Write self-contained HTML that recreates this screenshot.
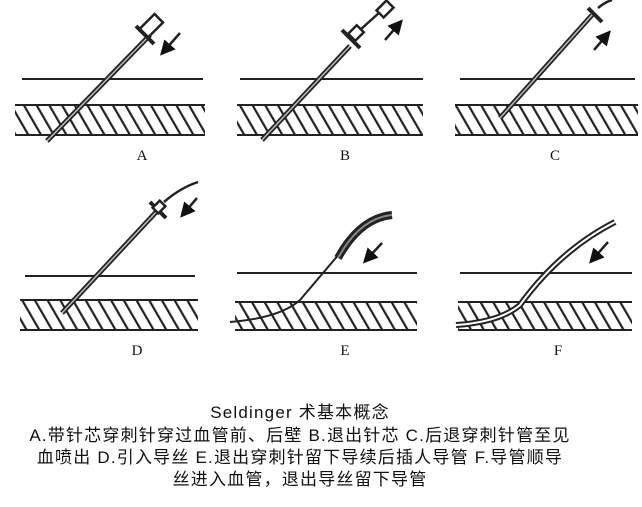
<!DOCTYPE html>
<html><head><meta charset="utf-8"><style>
html,body{margin:0;padding:0;background:#fff;}
.cap{position:absolute;left:-42px;width:684px;text-align:center;font-family:"Liberation Sans","Noto Sans CJK SC",sans-serif;font-size:17px;letter-spacing:1.2px;color:#111;line-height:22px;}
</style></head><body>
<div style="position:relative;width:642px;height:507px;overflow:hidden;">
<svg width="642" height="507" style="position:absolute;left:0;top:0" xmlns="http://www.w3.org/2000/svg">
<defs>
<pattern id="h" patternUnits="userSpaceOnUse" width="11" height="11" patternTransform="rotate(-30)">
<rect x="0" y="0" width="2.2" height="11" fill="#222"/>
</pattern>
<marker id="ar" markerWidth="6" markerHeight="6" refX="3" refY="3" orient="auto"><path d="M0,0L6,3L0,6z" fill="#111"/></marker>
</defs>
<g stroke="#222" stroke-width="2" fill="none">
<line x1="22" y1="79" x2="203" y2="79"/><line x1="240" y1="79" x2="423" y2="79"/><line x1="460" y1="79" x2="635" y2="79"/>
<line x1="15" y1="105" x2="205" y2="105"/><line x1="15" y1="135" x2="205" y2="135"/>
<line x1="237" y1="105" x2="423" y2="105"/><line x1="237" y1="135" x2="423" y2="135"/>
<line x1="455" y1="105" x2="638" y2="105"/><line x1="455" y1="135" x2="638" y2="135"/>
<line x1="25" y1="276" x2="195" y2="276"/><line x1="237" y1="273" x2="417" y2="273"/><line x1="460" y1="273" x2="632" y2="273"/>
<line x1="20" y1="300" x2="198" y2="300"/><line x1="20" y1="330" x2="198" y2="330"/>
<line x1="235" y1="302" x2="417" y2="302"/><line x1="235" y1="330" x2="417" y2="330"/>
<line x1="458" y1="302" x2="632" y2="302"/><line x1="458" y1="330" x2="632" y2="330"/>
</g>
<g fill="url(#h)">
<rect x="15" y="106" width="190" height="28"/><rect x="237" y="106" width="186" height="28"/><rect x="455" y="106" width="183" height="28"/>
<rect x="20" y="301" width="178" height="28"/><rect x="235" y="303" width="182" height="26"/><rect x="458" y="303" width="174" height="26"/>
</g>
<g stroke="#222" fill="none">
<path d="M47,141 L150,35" stroke-width="5"/><path d="M47,141 L150,35" stroke="#bbb" stroke-width="1.5"/>
<rect x="140" y="20" width="22" height="12" transform="rotate(-45 151 26)" stroke-width="2.5" fill="#fff"/>
<line x1="136" y1="26" x2="154" y2="44" stroke-width="4"/>
<line x1="180" y1="33" x2="165" y2="50" stroke-width="2.5" marker-end="url(#ar)"/>

<path d="M262,140 L350,46" stroke-width="5"/><path d="M262,140 L350,46" stroke="#bbb" stroke-width="1.5"/>
<line x1="342" y1="30" x2="360" y2="48" stroke-width="4"/>
<rect x="350" y="28" width="12" height="10" transform="rotate(-45 356 33)" stroke-width="2.5" fill="#fff"/>
<line x1="360" y1="30" x2="380" y2="12" stroke-width="2.5"/>
<rect x="378" y="4" width="14" height="10" transform="rotate(-45 385 9)" stroke-width="2.5" fill="#fff"/>
<line x1="385" y1="40" x2="398" y2="25" stroke-width="2.5" marker-end="url(#ar)"/>

<path d="M500,118 L592,15" stroke-width="5"/><path d="M500,118 L592,15" stroke="#bbb" stroke-width="1.5"/>
<line x1="588" y1="8" x2="602" y2="22" stroke-width="4"/>
<path d="M598,8 Q605,2 612,0" stroke-width="2.5"/>
<line x1="594" y1="50" x2="606" y2="36" stroke-width="2.5" marker-end="url(#ar)"/>

<path d="M62,313 L158,210" stroke-width="5"/><path d="M62,313 L158,210" stroke="#bbb" stroke-width="1.5"/>
<line x1="150" y1="202" x2="166" y2="218" stroke-width="4"/>
<rect x="154" y="203" width="10" height="8" transform="rotate(-45 159 207)" stroke-width="2.5" fill="#fff"/>
<path d="M164,202 Q180,188 198,182" stroke-width="2.5"/>
<line x1="197" y1="198" x2="185" y2="212" stroke-width="2.5" marker-end="url(#ar)"/>

<path d="M230,322 Q280,318 300,300 L340,253" stroke-width="2"/>
<path d="M338,258 Q360,218 392,215" stroke-width="8"/><path d="M338,258 Q360,218 392,215" stroke="#888" stroke-width="2"/>
<line x1="382" y1="243" x2="368" y2="258" stroke-width="2.5" marker-end="url(#ar)"/>

<path d="M456,325 Q500,322 520,305 Q560,250 615,222" stroke-width="6"/>
<path d="M456,325 Q500,322 520,305 Q560,250 615,222" stroke="#fff" stroke-width="2"/>
<line x1="608" y1="242" x2="594" y2="258" stroke-width="2.5" marker-end="url(#ar)"/>
</g>
<g font-family="Liberation Serif,serif" font-size="15" fill="#111" text-anchor="middle">
<text x="142" y="160">A</text><text x="345" y="160">B</text><text x="555" y="160">C</text>
<text x="137" y="355">D</text><text x="345" y="355">E</text><text x="558" y="355">F</text>
</g>
</svg>
<div class="cap" style="top:402px">Seldinger 术基本概念</div>
<div class="cap" style="top:425px">A.带针芯穿刺针穿过血管前、后壁 B.退出针芯 C.后退穿刺针管至见</div>
<div class="cap" style="top:447px">血喷出 D.引入导丝 E.退出穿刺针留下导续后插人导管 F.导管顺导</div>
<div class="cap" style="top:469px">丝进入血管，退出导丝留下导管</div>
</div>
</body></html>
